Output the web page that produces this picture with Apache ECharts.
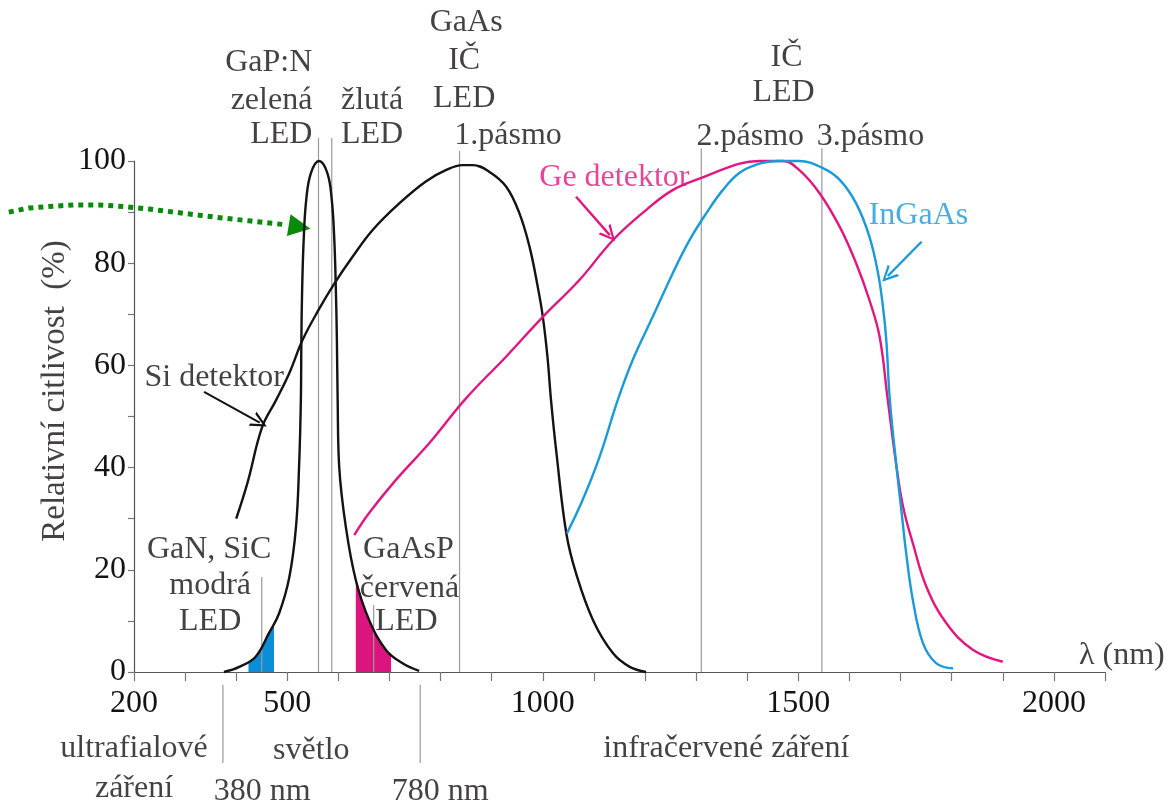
<!DOCTYPE html>
<html>
<head>
<meta charset="utf-8">
<title>Relativní citlivost detektorů</title>
<script src="https://cdn.jsdelivr.net/npm/echarts@6.0.0/dist/echarts.min.js"></script>
<style>
  html, body { margin: 0; padding: 0; background: #fff; }
  #chart { width: 1174px; height: 805px; }
</style>
</head>
<body>
<div id="chart"></div>
<script>
// values: [wavelength nm, relative sensitivity %]
var siDetector = [[400,30],[422,37],[451,48],[478,53.2],[504,58.5],[530,65],[562,71],[592,76],[628,81.3],[667,86.5],[719,91.7],[771,96],[810,98.2],[843,99.2],[863,99.2],[895,97.9],[928,95],[954,89.8],[974,83.2],[990,75.4],[1000,69.5],[1009,61.7],[1016,53.2],[1026,43.4],[1046,27.1],[1065,19.3],[1098,10.2],[1137,3.7],[1170,1],[1202,0]];
var gaPnLed = [[376,0],[406,1],[438,3],[464,7.6],[484,11.5],[504,18.6],[517,28.4],[523,40.2],[526.5,53.2],[527.5,65],[529,74.8],[532,84.5],[537,92.4],[546,97.6],[562,100],[578.5,97.6],[587,92.4],[592,84.5],[595,74.8],[597,65],[598.5,53.2],[601.5,40.2],[614.5,28.4],[634,18],[660,10.2],[693,4.3],[725.5,1.7],[758,0.2]];
var geDetector = [[631,26.8],[660,31.1],[712.5,37.6],[778,44.8],[850,53.6],[928,61.7],[1000,69.5],[1071.5,76.7],[1137,84.5],[1202,90.4],[1254,94.3],[1313,96.8],[1385,99.5],[1424,100],[1470,100],[1502,98.2],[1541.5,93.7],[1581,87.1],[1613,80],[1639,72.8],[1659,65.6],[1675,53.2],[1692,40.2],[1705,32.3],[1724,25.2],[1750.5,16.7],[1790,9.5],[1842,4.3],[1900,2]];
var inGaAs = [[1047,27.1],[1078,33.7],[1111,42.1],[1146.5,53.2],[1176,61.1],[1215,69.5],[1254,78],[1287,84.5],[1320,89.8],[1352,94.3],[1385,97.7],[1424,99.5],[1463,100],[1502,100],[1548,98.6],[1581,96.3],[1613,91.7],[1639,85.2],[1656,78],[1665.5,71.5],[1672,65],[1679,53.2],[1692,40.2],[1701.5,31.7],[1711,23.2],[1724,14.1],[1744,5.6],[1770,1.7],[1803,0.7]];
var blueLedFill = [[424,2],[438,3],[450,5.1],[464,7.6],[474,9.5]];
var redLedFill = [[634,18],[647,14],[660,10.2],[680,6.5],[693,4.3],[703,3.4]];

// thin grey marker lines: [nm, from %, to %]
var markerLines = [[561,0,104.5],[587,0,104.5],[450,0,18.6],[669,0,13.1],[837,0,102],[1310,0,102.5],[1546,0,102.5],[374,-2.5,-17.8],[760,-2.5,-17.8]];

// annotation arrows
var greenDots = [[-45,90],[-5,90.8],[33,91.1],[82,91.4],[131,91.4],[180,91.1],[229,90.6],[278,90],[327,89.4],[376,88.8],[425,88.3],[470,87.8],[500,87.5]];
var greenHead = [[494,87.6],[524,87.1]];
var siArrow = [[337,54.8],[446,48.8]];
var geArrow = [[1065,93],[1131,85.5]];
var inGaAsArrow = [[1741,84.2],[1675,77.5]];

var xLabels = [200, 500, 1000, 1500, 2000];

// texts: [text, nm, %, colour, align]
var textLabels = [
  ['GaAs', 850, 127, 'black', 'center'],
  ['IČ', 846, 119.6, 'black', 'center'],
  ['LED', 846, 112.3, 'black', 'center'],
  ['1.pásmo', 932, 104.9, 'black', 'center'],
  ['GaP:N', 549, 119.2, 'black', 'right'],
  ['zelená', 549, 111.9, 'black', 'right'],
  ['LED', 549, 105.1, 'black', 'right'],
  ['žlutá', 605, 111.9, 'black', 'left'],
  ['LED', 605, 105.1, 'black', 'left'],
  ['IČ', 1477, 120.2, 'black', 'center'],
  ['LED', 1471, 113.3, 'black', 'center'],
  ['2.pásmo', 1406, 104.7, 'black', 'center'],
  ['3.pásmo', 1641, 104.7, 'black', 'center'],
  ['Ge detektor', 1140, 96.7, 'magenta', 'center'],
  ['InGaAs', 1735, 89.4, 'blue', 'center'],
  ['Si detektor', 357, 57.7, 'black', 'center'],
  ['GaN, SiC', 347, 23.9, 'black', 'center'],
  ['modrá', 349, 17, 'black', 'center'],
  ['LED', 349, 9.8, 'black', 'center'],
  ['GaAsP', 737, 23.9, 'black', 'center'],
  ['červená', 739, 16.4, 'black', 'center'],
  ['LED', 733, 9.8, 'black', 'center'],
  ['λ (nm)', 2133, 3.3, 'black', 'center'],
  ['ultrafialové', 200, -15, 'black', 'center'],
  ['záření', 200, -22.8, 'black', 'center'],
  ['světlo', 547, -15.3, 'black', 'center'],
  ['380 nm', 451, -23.4, 'black', 'center'],
  ['780 nm', 799, -23.4, 'black', 'center'],
  ['infračervené záření', 1359, -15, 'black', 'center']
];

var FONT = 'Liberation Serif';
var FS = 32;
var colors = { black: '#141212', magenta: '#e2167f', blue: '#1a9ad8', green: '#0a8a0a', grey: '#9a9a9a' };

var chart = echarts.init(document.getElementById('chart'));

function curve(data, color) {
  return {
    type: 'line', data: data, smooth: 0.4,
    symbol: 'none', clip: false, silent: true,
    lineStyle: { color: color, width: 2.4 }
  };
}

function fill(data, color) {
  return {
    type: 'line', data: data, smooth: 0.3, symbol: 'none', silent: true,
    lineStyle: { width: 0 }, areaStyle: { color: color, opacity: 1 }
  };
}

var chevron = 'path://M0,12 L6,0 L12,12 L10,12 L6,3.5 L2,12 Z';

function arrow(coords, color, width, type, symbol, size) {
  return {
    type: 'lines', coordinateSystem: 'cartesian2d', clip: false, silent: true,
    symbol: ['none', symbol], symbolSize: size,
    lineStyle: { color: color, width: width, type: type, opacity: 1, cap: 'butt' },
    data: [{ coords: coords }]
  };
}

var series = [];
series.push(fill(blueLedFill, '#0b8ed6'));
series.push(fill(redLedFill, '#dc147d'));
markerLines.forEach(function (m) {
  series.push({
    type: 'line', data: [[m[0], m[1]], [m[0], m[2]]], symbol: 'none', clip: false, silent: true,
    lineStyle: { color: colors.grey, width: 1.2 }
  });
});
series.push(curve(gaPnLed, colors.black));
series.push(curve(siDetector, colors.black));
series.push(curve(geDetector, colors.magenta));
series.push(curve(inGaAs, colors.blue));
// green dotted pointer with a solid head
series.push({
  type: 'lines', coordinateSystem: 'cartesian2d', polyline: true, clip: false, silent: true,
  lineStyle: { color: colors.green, width: 5, type: [5, 5], opacity: 1, cap: 'butt' },
  data: [{ coords: greenDots }]
});
series.push(arrow(greenHead, colors.green, 0, 'solid', 'triangle', 22));
series.push(arrow(siArrow, colors.black, 2, 'solid', chevron, 16));
series.push(arrow(geArrow, colors.magenta, 2.4, 'solid', chevron, 16));
series.push(arrow(inGaAsArrow, colors.blue, 2.4, 'solid', chevron, 16));

series.push({
  type: 'scatter', symbolSize: 0, clip: false, silent: true,
  data: textLabels.map(function (t) {
    return {
      value: [t[1], t[2]],
      label: {
        show: true, formatter: t[0], position: 'inside', align: t[4], verticalAlign: 'middle',
        color: colors[t[3]], fontFamily: FONT, fontSize: FS, textBorderWidth: 0
      }
    };
  })
});
// y axis title, rotated
series.push({
  type: 'scatter', symbolSize: 0, clip: false, silent: true,
  data: [{
    value: [47, 55],
    label: {
      show: true, formatter: 'Relativní citlivost  (%)', position: 'inside', rotate: 90,
      color: colors.black, fontFamily: FONT, fontSize: 33, textBorderWidth: 0
    }
  }]
});

chart.setOption({
  animation: false,
  grid: { left: 134, right: 69, top: 161, bottom: 133, containLabel: false },
  xAxis: {
    type: 'value', min: 200, max: 2100, interval: 100,
    axisLine: { lineStyle: { color: '#555', width: 1.2 } },
    axisTick: { length: 9, lineStyle: { color: '#777', width: 1.2 } },
    splitLine: { show: false },
    axisLabel: {
      margin: 16, color: '#141212', fontFamily: FONT, fontSize: FS,
      formatter: function (v) { return xLabels.indexOf(v) >= 0 ? String(v) : ''; }
    }
  },
  yAxis: {
    type: 'value', min: 0, max: 100, interval: 10,
    axisLine: { show: true, lineStyle: { color: '#555', width: 1.2 } },
    axisTick: { show: true, length: 6, lineStyle: { color: '#777', width: 1.2 } },
    splitLine: { show: false },
    axisLabel: {
      margin: 8, color: '#141212', fontFamily: FONT, fontSize: FS,
      formatter: function (v) { return v % 20 === 0 ? String(v) : ''; }
    }
  },
  series: series
});
</script>
</body>
</html>
